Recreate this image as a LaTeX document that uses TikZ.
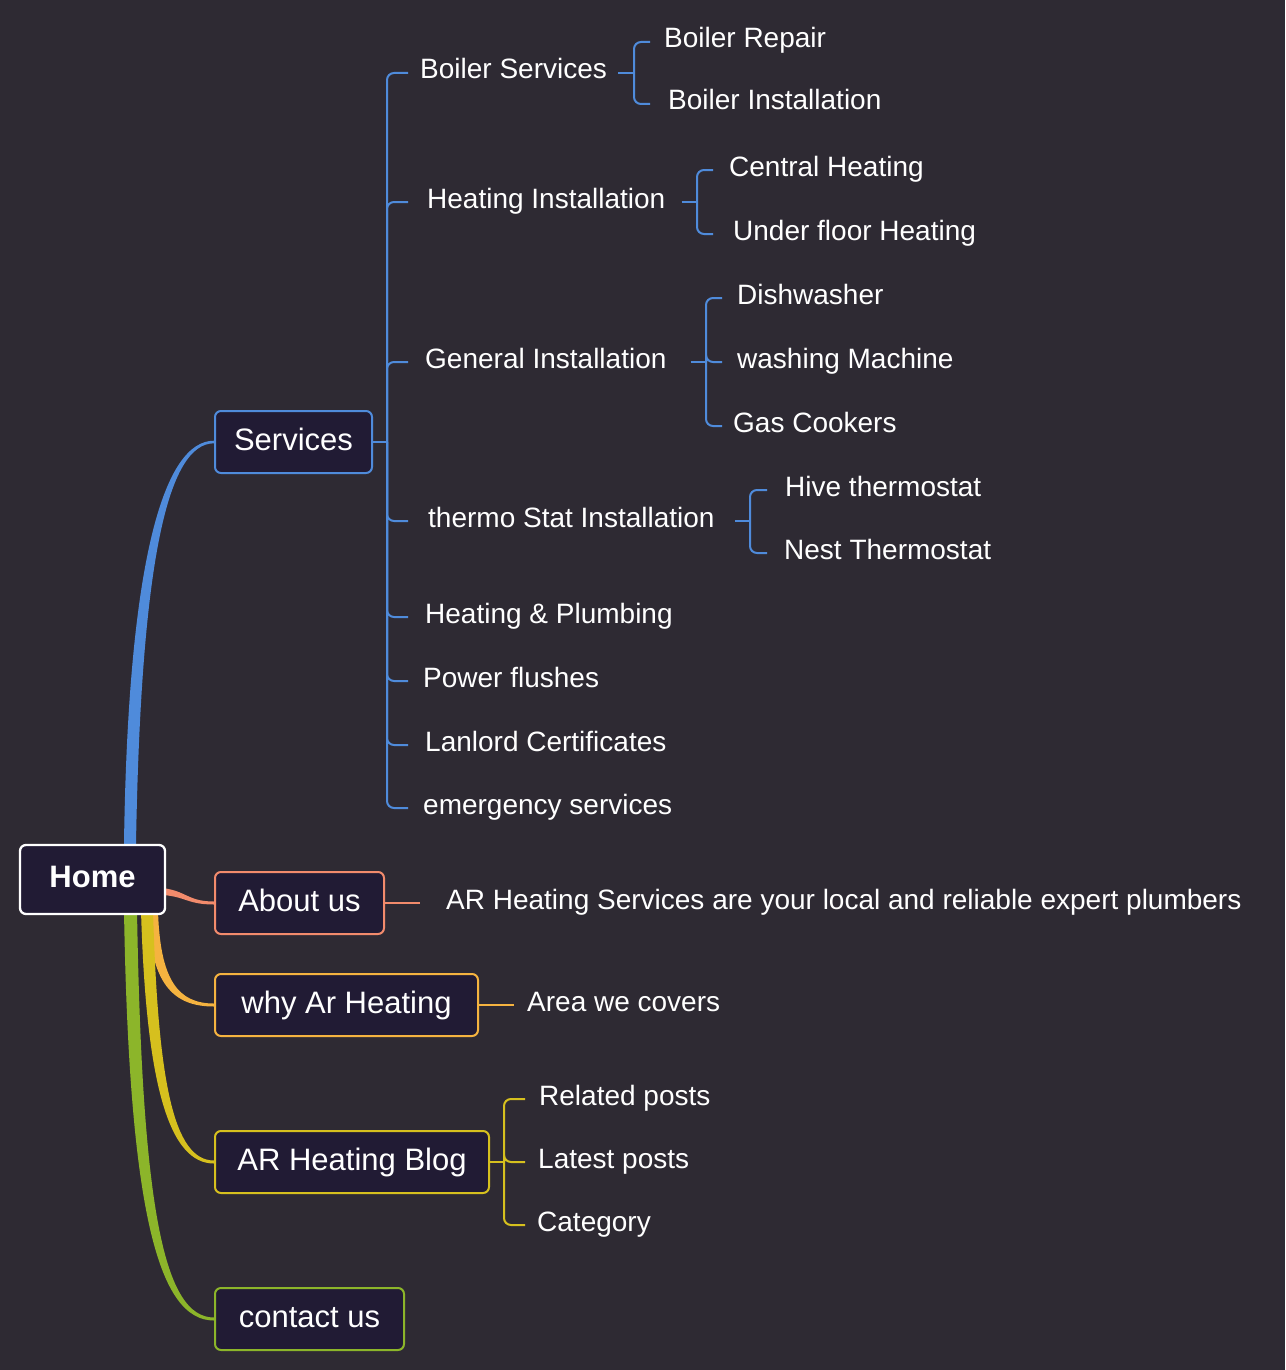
\documentclass[tikz,border=0pt]{standalone}
\usepackage{fontspec}
\setmainfont{Liberation Sans}
\usetikzlibrary{calc,backgrounds}
\definecolor{bgc}{RGB}{46,42,51}
\definecolor{boxc}{RGB}{33,27,52}
\definecolor{cblue}{RGB}{79,139,219}
\definecolor{csal}{RGB}{242,139,108}
\definecolor{corg}{RGB}{245,179,64}
\definecolor{cyel}{RGB}{214,192,30}
\definecolor{cgrn}{RGB}{140,181,42}
\begin{document}
\begin{tikzpicture}[x=1pt,y=-1pt,
  box/.style={draw, line width=2pt, rounded corners=6pt, fill=boxc, text=white,
    minimum height=62pt, inner sep=0pt, text height=22pt, text depth=6pt,
    font=\fontsize{31}{37}\selectfont},
  leaf/.style={text=white, inner sep=0pt, anchor=west, text height=18pt, text depth=6pt,
    font=\fontsize{28}{34}\selectfont},
  bline/.style={line width=2pt, rounded corners=7pt}]
\useasboundingbox (0,0) rectangle (1285,1370);

% main nodes
\node[box, draw=white, line width=2.3pt, minimum width=145pt, minimum height=69pt, font=\fontsize{31}{37}\selectfont\bfseries] (home) at (92.5,879.5) {Home};
\node[box, draw=cblue, minimum width=157pt] (serv) at (293.5,442) {Services};
\node[box, draw=csal, minimum width=169pt] (about) at (299.5,903) {About us};
\node[box, draw=corg, minimum width=263pt] (why) at (346.5,1005) {why Ar Heating};
\node[box, draw=cyel, minimum width=274pt] (blog) at (352,1162) {AR Heating Blog};
\node[box, draw=cgrn, minimum width=189pt] (contact) at (309.5,1319) {contact us};

% services children
\node[leaf] (bsv) at (420,73) {Boiler Services};
\node[leaf] (hin) at (427,202) {Heating Installation};
\node[leaf] (gin) at (425,362) {General Installation};
\node[leaf] (tsi) at (428,521) {thermo Stat Installation};
\node[leaf] (hpl) at (425,617) {Heating \& Plumbing};
\node[leaf] (pfl) at (423,681) {Power flushes};
\node[leaf] (llc) at (425,745) {Lanlord Certificates};
\node[leaf] (ems) at (423,808) {emergency services};
% level 3
\node[leaf] (brp) at (664,42) {Boiler Repair};
\node[leaf] (bin) at (668,104) {Boiler Installation};
\node[leaf] (chh) at (729,170) {Central Heating};
\node[leaf] (ufh) at (733,234) {Under floor Heating};
\node[leaf] (dsh) at (737,298) {Dishwasher};
\node[leaf] (wsm) at (737,362) {washing Machine};
\node[leaf] (gck) at (733,426) {Gas Cookers};
\node[leaf] (hvt) at (785,490) {Hive thermostat};
\node[leaf] (nst) at (784,553) {Nest Thermostat};
% other leaves
\node[leaf] (arh) at (446,903) {AR Heating Services are your local and reliable expert plumbers};
\node[leaf] (awc) at (527,1005) {Area we covers};
\node[leaf] (rlp) at (539,1099) {Related posts};
\node[leaf] (ltp) at (538,1162) {Latest posts};
\node[leaf] (cat) at (537,1225) {Category};

% junction coordinates
\coordinate (jS) at (387,442);  \coordinate (eS) at (408,0);
\coordinate (jBS) at (634,73);  \coordinate (eBS) at (650,0);
\coordinate (jHI) at (697,202); \coordinate (eHI) at (713,0);
\coordinate (jGI) at (706,362); \coordinate (eGI) at (722,0);
\coordinate (jTS) at (750,521); \coordinate (eTS) at (767,0);
\coordinate (jB) at (504,1162); \coordinate (eB) at (525,0);

% services bracket
\draw[bline,cblue] (serv.east) -- (jS);
\foreach \c in {bsv,hin,gin,tsi,hpl,pfl,llc,ems}
  \draw[bline,cblue] (jS) |- (\c.west -| eS);
% boiler services
\draw[bline,cblue] ([xshift=11pt]bsv.east) -- (jBS);
\foreach \c in {brp,bin} \draw[bline,cblue] (jBS) |- (\c.west -| eBS);
% heating installation
\draw[bline,cblue] ([xshift=16pt]hin.east) -- (jHI);
\foreach \c in {chh,ufh} \draw[bline,cblue] (jHI) |- (\c.west -| eHI);
% general installation
\draw[bline,cblue] ([xshift=24pt]gin.east) -- (jGI);
\foreach \c in {dsh,wsm,gck} \draw[bline,cblue] (jGI) |- (\c.west -| eGI);
% thermostat
\draw[bline,cblue] ([xshift=20pt]tsi.east) -- (jTS);
\foreach \c in {hvt,nst} \draw[bline,cblue] (jTS) |- (\c.west -| eTS);
% about, why
\draw[bline,csal] (about.east) -- ([xshift=-26pt]arh.west);
\draw[bline,corg] (why.east) -- ([xshift=-13pt]awc.west);
% blog
\draw[bline,cyel] (blog.east) -- (jB);
\foreach \c in {rlp,ltp,cat} \draw[bline,cyel] (jB) |- (\c.west -| eB);

% tapered main branches
\begin{scope}[on background layer]
\fill[bgc] (0,0) rectangle (1285,1370);
\fill[cblue] ($(home.north)+(31.5,0)$) .. controls +(4,-285) and +(-50,0) .. ($(serv.west)+(0,-1.3)$)
  -- ($(serv.west)+(0,1.3)$) .. controls +(-46,0) and +(5,-285) .. ($(home.north)+(43.5,0)$) -- cycle;
\fill[csal] ($(home.east)+(-15,8)$) .. controls +(35,0) and +(-30,0) .. ($(about.west)+(0,-1.5)$)
  -- ($(about.west)+(0,1.5)$) .. controls +(-30,0) and +(35,0) .. ($(home.east)+(-15,15)$) -- cycle;
\fill[corg] ($(home.south)+(55.5,-5)$) .. controls +(2,75) and +(-40,0) .. ($(why.west)+(0,1.5)$)
  -- ($(why.west)+(0,-1.5)$) .. controls +(-36,0) and +(2,70) .. ($(home.south)+(65.5,-5)$) -- cycle;
\fill[cyel] ($(home.south)+(48.5,-5)$) .. controls +(5,175) and +(-45,0) .. ($(blog.west)+(0,1.5)$)
  -- ($(blog.west)+(0,-1.5)$) .. controls +(-41,0) and +(5,170) .. ($(home.south)+(60.5,-5)$) -- cycle;
\fill[cgrn] ($(home.south)+(31.5,-5)$) .. controls +(5,305) and +(-55,0) .. ($(contact.west)+(0,1.5)$)
  -- ($(contact.west)+(0,-1.5)$) .. controls +(-50,0) and +(5,300) .. ($(home.south)+(44.5,-5)$) -- cycle;
\end{scope}
\end{tikzpicture}
\end{document}
